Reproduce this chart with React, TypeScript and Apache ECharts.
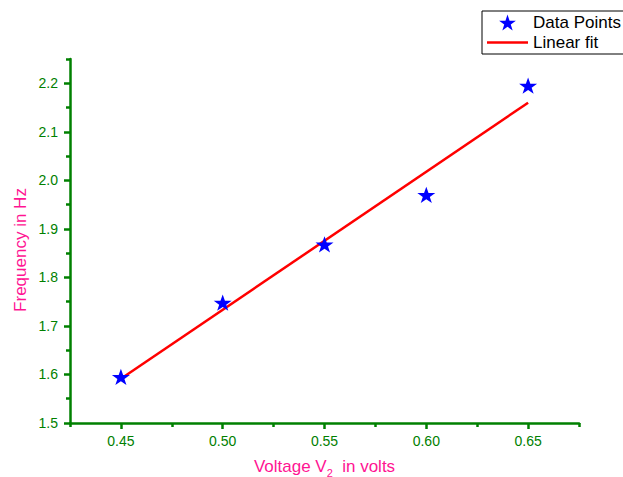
import React, { useEffect, useRef } from "react";
import * as echarts from "echarts";

// Data
const voltage = [0.45, 0.5, 0.55, 0.6, 0.65];
const frequency = [1.595, 1.748, 1.868, 1.97, 2.195];
const fitVoltage = [0.45, 0.65];
const fitFrequency = [1.591, 2.16];

const xMajorTicks = [0.45, 0.5, 0.55, 0.6, 0.65];
const xMinorTicks = [0.425, 0.475, 0.525, 0.575, 0.625, 0.675];
const yMajorTicks = [1.5, 1.6, 1.7, 1.8, 1.9, 2.0, 2.1, 2.2];
const yMinorTicks = [1.55, 1.65, 1.75, 1.85, 1.95, 2.05, 2.15, 2.25];

const GREEN = "#008000";
const PINK = "#ff1493";
const FONT = "'Liberation Sans', Arial, Helvetica, sans-serif";
const STAR =
  "path://M50,0 L61.8,35.1 L97.6,35.1 L68.6,56.7 L79.4,91 L50,70 L20.6,91 L31.4,56.7 L2.4,35.1 L38.2,35.1 Z";
const LINE_ICON = "path://M0,0 L41,0 L41,2.5 L0,2.5 Z";

export default function App() {
  const ref = useRef<HTMLDivElement>(null);

  useEffect(() => {
    document.body.style.margin = "0";
    if (!ref.current) return;
    const chart = echarts.init(ref.current, undefined, { renderer: "svg" });

    const baseX = {
      type: "value" as const,
      min: 0.425,
      max: 0.675,
      position: "bottom" as const,
      splitLine: { show: false },
    };
    const baseY = {
      type: "value" as const,
      min: 1.5,
      max: 2.25,
      position: "left" as const,
      splitLine: { show: false },
    };

    chart.setOption({
      animation: false,
      backgroundColor: "#ffffff",
      textStyle: { fontFamily: FONT },
      grid: {
        left: 70,
        right: 44,
        top: 59,
        bottom: 54,
        outerBoundsMode: "none",
      },
      legend: {
        left: 482,
        top: 11,
        orient: "vertical",
        itemWidth: 41,
        itemHeight: 16,
        itemGap: 3,
        padding: [3, 5, 3, 5],
        borderColor: "#000000",
        borderWidth: 1,
        borderRadius: 0,
        backgroundColor: "#ffffff",
        textStyle: { color: "#000000", fontSize: 17, fontFamily: FONT },
        data: [
          { name: "Data Points" },
          { name: "Linear fit", icon: LINE_ICON },
        ],
      },
      xAxis: [
        {
          ...baseX,
          name: "Voltage V{sub|2}  in volts",
          nameLocation: "middle",
          nameGap: 32,
          nameTextStyle: {
            color: PINK,
            fontSize: 17,
            fontFamily: FONT,
            rich: {
              sub: { color: PINK, fontSize: 11, fontFamily: FONT, padding: [12, 0, 0, 0] },
            },
          },
          axisLine: { show: true, onZero: false, lineStyle: { color: GREEN, width: 2.5 } },
          axisTick: {
            show: true,
            customValues: xMajorTicks,
            length: 6,
            lineStyle: { color: GREEN, width: 2.5 },
          },
          axisLabel: {
            customValues: xMajorTicks,
            color: GREEN,
            fontSize: 14,
            fontFamily: FONT,
            margin: 11,
            formatter: (v: number) => v.toFixed(2),
          },
        },
        {
          ...baseX,
          axisLine: { show: false, onZero: false },
          axisTick: {
            show: true,
            customValues: xMinorTicks,
            length: 4,
            lineStyle: { color: GREEN, width: 2.5 },
          },
          axisLabel: { show: false },
        },
      ],
      yAxis: [
        {
          ...baseY,
          axisLine: { show: true, onZero: false, lineStyle: { color: GREEN, width: 2.5 } },
          axisTick: {
            show: true,
            customValues: yMajorTicks,
            length: 6,
            lineStyle: { color: GREEN, width: 2.5 },
          },
          axisLabel: {
            customValues: yMajorTicks,
            color: GREEN,
            fontSize: 14,
            fontFamily: FONT,
            margin: 12,
            formatter: (v: number) => v.toFixed(1),
          },
        },
        {
          ...baseY,
          axisLine: { show: false, onZero: false },
          axisTick: {
            show: true,
            customValues: yMinorTicks,
            length: 4,
            lineStyle: { color: GREEN, width: 2.5 },
          },
          axisLabel: { show: false },
        },
      ],
      graphic: [
        {
          type: "text",
          x: 20,
          y: 250,
          rotation: Math.PI / 2,
          style: {
            text: "Frequency in Hz",
            fill: PINK,
            font: `17px ${FONT}`,
            textAlign: "center",
            textVerticalAlign: "middle",
            align: "center",
            verticalAlign: "middle",
          },
        },
      ],
      series: [
        {
          name: "Linear fit",
          type: "line",
          xAxisIndex: 0,
          yAxisIndex: 0,
          data: fitVoltage.map((v, i) => [v, fitFrequency[i]]),
          showSymbol: false,
          symbol: "none",
          symbolKeepAspect: true,
          lineStyle: { color: "#ff0000", width: 2.5 },
          itemStyle: { color: "#ff0000" },
          z: 2,
        },
        {
          name: "Data Points",
          type: "scatter",
          xAxisIndex: 0,
          yAxisIndex: 0,
          data: voltage.map((v, i) => [v, frequency[i]]),
          symbol: STAR,
          symbolSize: [18, 17],
          symbolKeepAspect: true,
          itemStyle: { color: "#0000ff", opacity: 1 },
          z: 3,
        },
      ],
    });

    return () => chart.dispose();
  }, []);

  return <div ref={ref} style={{ width: 623, height: 477 }} />;
}
